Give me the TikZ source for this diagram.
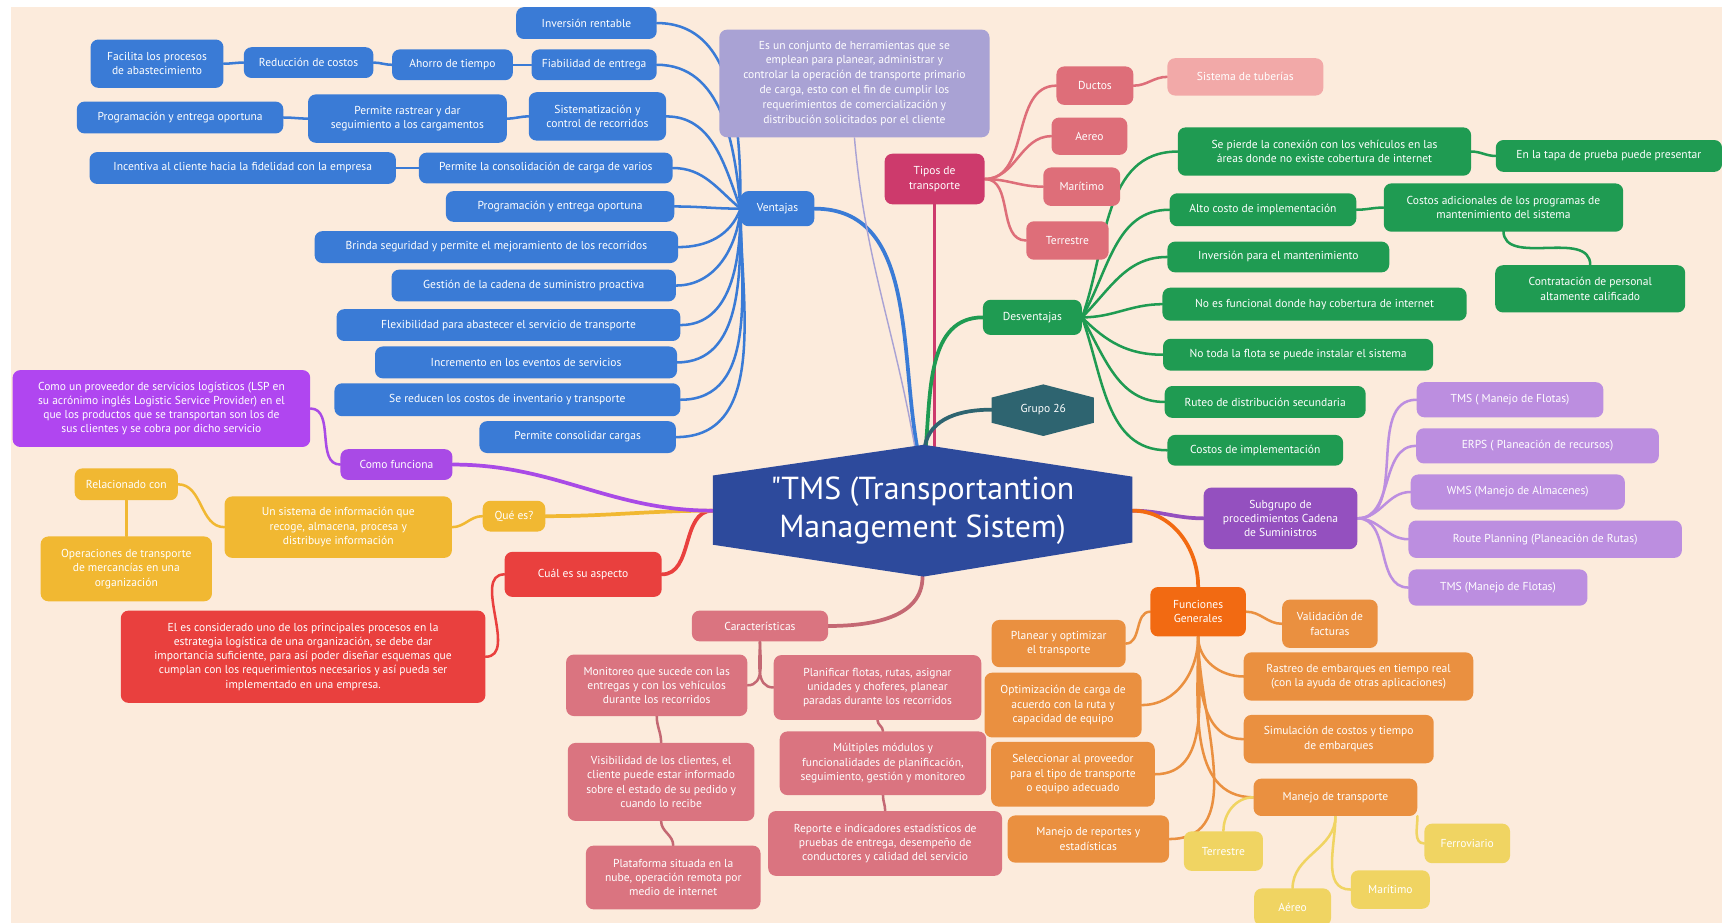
\documentclass[tikz,border=0pt]{standalone}
\usepackage{fontspec}
\setmainfont{PT Sans}
\usetikzlibrary{calc}
\pgfdeclarelayer{back}
\pgfdeclarelayer{edges}
\pgfsetlayers{back,edges,main}

\definecolor{paper}{HTML}{FCEBDC}
\definecolor{cBlue}{HTML}{3A7BD6}
\definecolor{cNavy}{HTML}{2D4A9C}
\definecolor{cLav}{HTML}{A9A2D4}
\definecolor{cTipo}{HTML}{CD3A6C}
\definecolor{cRose}{HTML}{DE6E79}
\definecolor{cPinkL}{HTML}{F2A9A8}
\definecolor{cGreen}{HTML}{1F9B52}
\definecolor{cTeal}{HTML}{2E6470}
\definecolor{cPurp}{HTML}{9450BF}
\definecolor{cLilac}{HTML}{BC8EE0}
\definecolor{cOrgD}{HTML}{F26A12}
\definecolor{cOrg}{HTML}{EA9040}
\definecolor{cYel}{HTML}{F0D462}
\definecolor{cCar}{HTML}{DA7480}
\definecolor{cRed}{HTML}{E9403E}
\definecolor{cGold}{HTML}{F1B832}
\definecolor{cVio}{HTML}{A94AE6}
\definecolor{cVioB}{HTML}{B046F0}

\newcommand\nf{\fontsize{10.5}{13}\selectfont}

\begin{document}
\begin{tikzpicture}[x=1pt,y=-1pt,
  box/.style={rounded corners=7pt, text=white, align=center, inner sep=0pt, font=\nf},
  sz/.style 2 args={minimum width=#1pt, minimum height=#2pt},
  bl/.style={box, fill=cBlue},
  lav/.style={box, fill=cLav},
  tipo/.style={box, fill=cTipo},
  rose/.style={box, fill=cRose},
  pinkl/.style={box, fill=cPinkL},
  gr/.style={box, fill=cGreen},
  pu/.style={box, fill=cPurp},
  li/.style={box, fill=cLilac},
  ord/.style={box, fill=cOrgD},
  org/.style={box, fill=cOrg},
  ye/.style={box, fill=cYel},
  car/.style={box, fill=cCar},
  rd/.style={box, fill=cRed},
  gd/.style={box, fill=cGold},
  vi/.style={box, fill=cVio},
  vib/.style={box, fill=cVioB},
  ln/.style={line width=2.3pt, line cap=round},
  main/.style={line width=3.4pt, line cap=round},
]
\useasboundingbox (0,0) rectangle (1568,840);
\begin{pgfonlayer}{back}
  \fill[white] (0,0) rectangle (1568,840);
  \fill[paper] (10,6) rectangle (1568,840);
\end{pgfonlayer}

% central topic
\fill[cNavy] (649,433)--(841,405)--(1031,434)--(1031,494)--(841,525)--(649,496)--cycle;
\node[text=white, align=center, inner sep=0pt, sz={382}{120},
      font=\fontsize{29}{34}\selectfont] (root) at (840,465)
      {\textquotedbl TMS (Transportantion\\Management Sistem)};

% group tag
\fill[cTeal] (903,362)--(950,350)--(996,362)--(996,385)--(950,397)--(903,385)--cycle;
\node[text=white, inner sep=0pt, sz={93}{47}, font=\nf] (grp) at (950,373) {Grupo 26};

% Ventajas branch
\node[bl, sz={67}{32}] (vent) at (708,190) {Ventajas};
\node[bl, sz={128}{29}] (inv) at (534,21) {Inversión rentable};
\node[bl, sz={114}{28}] (fia) at (541,59) {Fiabilidad de entrega};
\node[bl, sz={110}{28}] (aho) at (412,59) {Ahorro de tiempo};
\node[bl, sz={118}{28}] (rdc) at (281,57) {Reducción de costos};
\node[bl, sz={121}{44}] (fac) at (143,58) {Facilita los procesos\\de abastecimiento};
\node[bl, sz={125}{44}] (sis) at (544,106) {Sistematización y\\control de recorridos};
\node[bl, sz={181}{44}] (ras) at (371,108) {Permite rastrear y dar\\seguimiento a los cargamentos};
\node[bl, sz={188}{29}] (prgA) at (164,107) {Programación y entrega oportuna};
\node[bl, sz={231}{28}] (pcc) at (497,153) {Permite la consolidación de carga de varios};
\node[bl, sz={279}{29}] (icv) at (221,153) {Incentiva al cliente hacia la fidelidad con la empresa};
\node[bl, sz={208}{28}] (prgB) at (510,188) {Programación y entrega oportuna};
\node[bl, sz={331}{29}] (bri) at (452,225) {Brinda seguridad y permite el mejoramiento de los recorridos};
\node[bl, sz={259}{29}] (ges) at (486,260) {Gestión de la cadena de suministro proactiva};
\node[bl, sz={313}{29}] (fle) at (463,296) {Flexibilidad para abastecer el servicio de transporte};
\node[bl, sz={275}{29}] (inc) at (479,330) {Incremento en los eventos de servicios};
\node[bl, sz={315}{30}] (rci) at (462,364) {Se reducen los costos de inventario y transporte};
\node[bl, sz={179}{29}] (pcs) at (526,398) {Permite consolidar cargas};

% definition
\node[lav, sz={246}{98}, font=\fontsize{10.5}{13.6}\selectfont] (desc) at (778,76)
 {Es un conjunto de herramientas que se\\emplean para planear, administrar y\\controlar la operación de transporte primario\\de carga, esto con el fin de cumplir los\\requerimientos de comercialización y\\distribución solicitados por el cliente};

% Tipos de transporte
\node[tipo, sz={91}{46}] (tip) at (851,163) {Tipos de\\transporte};
\node[rose, sz={70}{35}] (duc) at (997,78) {Ductos};
\node[rose, sz={69}{34}] (aer) at (992,124) {Aereo};
\node[rose, sz={70}{35}] (mar) at (985,170) {Marítimo};
\node[rose, sz={75}{35}] (ter) at (972,219) {Terrestre};
\node[pinkl, sz={142}{34}] (tub) at (1134,70) {Sistema de tuberías};

% Desventajas
\node[gr, sz={90}{32}] (des) at (940,289) {Desventajas};
\node[gr, sz={267}{44}] (spc) at (1206,138) {Se pierde la conexión con los vehículos en las\\áreas donde no existe cobertura de internet};
\node[gr, sz={206}{29}] (tap) at (1465,142) {En la tapa de prueba puede presentar};
\node[gr, sz={170}{30}] (alt) at (1150,191) {Alto costo de implementación};
\node[gr, sz={218}{44}] (cad) at (1369,189) {Costos adicionales de los programas de\\mantenimiento del sistema};
\node[gr, sz={173}{43}] (con) at (1448,263) {Contratación de personal\\altamente calificado};
\node[gr, sz={202}{28}] (ipm) at (1164,234) {Inversión para el mantenimiento};
\node[gr, sz={277}{30}] (nef) at (1197,277) {No es funcional donde hay cobertura de internet};
\node[gr, sz={246}{29}] (ntf) at (1182,323) {No toda la flota se puede instalar el sistema};
\node[gr, sz={183}{29}] (rut) at (1152,366) {Ruteo de distribución secundaria};
\node[gr, sz={160}{28}] (cdi) at (1143,410) {Costos de implementación};

% Subgrupo
\node[pu, sz={140}{56}] (sub) at (1166,472) {Subgrupo de\\procedimientos Cadena\\de Suministros};
\node[li, sz={170}{32}] (tmsA) at (1375,364) {TMS ( Manejo de Flotas)};
\node[li, sz={221}{32}] (erp) at (1400,406) {ERPS ( Planeación de recursos)};
\node[li, sz={195}{32}] (wms) at (1382,448) {WMS (Manejo de Almacenes)};
\node[li, sz={249}{34}] (rpl) at (1407,491) {Route Planning (Planeación de Rutas)};
\node[li, sz={163}{33}] (tmsB) at (1364,535) {TMS (Manejo de Flotas)};

% Funciones Generales
\node[ord, sz={87}{45}] (fun) at (1091,557) {Funciones\\Generales};
\node[org, sz={87}{44}] (val) at (1211,568) {Validación de\\facturas};
\node[org, sz={122}{43}] (pla) at (964,586) {Planear y optimizar\\el transporte};
\node[org, sz={143}{59}] (opt) at (968,642) {Optimización de carga de\\acuerdo con la ruta y\\capacidad de equipo};
\node[org, sz={149}{59}] (sel) at (977,705) {Seleccionar al proveedor\\para el tipo de transporte\\o equipo adecuado};
\node[org, sz={147}{43}] (mre) at (991,764) {Manejo de reportes y\\estadísticas};
\node[org, sz={209}{44}] (rem) at (1237,616) {Rastreo de embarques en tiempo real\\(con la ayuda de otras aplicaciones)};
\node[org, sz={173}{44}] (sim) at (1219,673) {Simulación de costos y tiempo\\de embarques};
\node[org, sz={149}{34}] (mtr) at (1216,726) {Manejo de transporte};
\node[ye, sz={72}{36}] (yT) at (1114,775) {Terrestre};
\node[ye, sz={70}{34}] (yA) at (1177,826) {Aéreo};
\node[ye, sz={72}{35}] (yM) at (1266,810) {Marítimo};
\node[ye, sz={78}{36}] (yF) at (1336,768) {Ferroviario};

% Caracteristicas
\node[car, sz={124}{28}] (cart) at (692,570) {Características};
\node[car, sz={165}{56}] (mon) at (598,624) {Monitoreo que sucede con las\\entregas y con los vehículos\\durante los recorridos};
\node[car, sz={189}{59}] (plf) at (799,626) {Planificar flotas, rutas, asignar\\unidades y choferes, planear\\paradas durante los recorridos};
\node[car, sz={170}{71}] (vis) at (602,712) {Visibilidad de los clientes, el\\cliente puede estar informado\\sobre el estado de su pedido y\\cuando lo recibe};
\node[car, sz={188}{58}] (mul) at (804,695) {Múltiples módulos y\\funcionalidades de planificación,\\seguimiento, gestión y monitoreo};
\node[car, sz={159}{58}] (plt) at (613,799) {Plataforma situada en la\\nube, operación remota por\\medio de internet};
\node[car, sz={213}{59}] (rpt) at (806,768) {Reporte e indicadores estadísticos de\\pruebas de entrega, desempeño de\\conductores y calidad del servicio};

% Cual es su aspecto
\node[rd, sz={143}{41}] (cua) at (531,523) {Cuál es su aspecto};
\node[rd, sz={332}{84}] (crd) at (276,598) {El es considerado uno de los principales procesos en la\\estrategia logística de una organización, se debe dar\\importancia suficiente, para así poder diseñar esquemas que\\cumplan con los requerimientos necesarios y así pueda ser\\implementado en una empresa.};

% Que es
\node[gd, sz={57}{28}] (que) at (468,470) {Qué es?};
\node[gd, sz={207}{56}] (uns) at (308,480) {Un sistema de información que\\recoge, almacena, procesa y\\distribuye información};
\node[gd, sz={94}{29}] (rel) at (115,441) {Relacionado con};
\node[gd, sz={156}{59}] (ope) at (115,518) {Operaciones de transporte\\de mercancías en una\\organización};

% Como funciona
\node[vi, sz={102}{28}] (com) at (361,423) {Como funciona};
\node[vib, sz={271}{70}] (cmv) at (147,372) {Como un proveedor de servicios logísticos (LSP en\\su acrónimo inglés Logistic Service Provider) en el\\que los productos que se transportan son los de\\sus clientes y se cobra por dicho servicio};

% ---------------- connectors ----------------
\begin{pgfonlayer}{edges}
  % branches leaving the central topic
  \draw[main, cBlue] (vent.east) to[out=0,in=100] ($(root.north)+(-5,2)$);
  \draw[line width=1.3pt, cLav] (desc.south) to[out=-85,in=100] ($(root.north)+(-7,2)$);
  \draw[main, cTipo] (tip.south) -- (851,410);
  \draw[main, cGreen] (des.west) to[out=180,in=85] ($(root.north)+(3,2)$);
  \draw[main, cTeal] ($(root.north)+(2,2)$) to[out=80,in=180] (grp.west);
  \draw[main, cPurp] (root.east) to[out=0,in=180] (sub.west);
  \draw[main, cOrgD] (root.east) to[out=0,in=90] (fun.north);
  \draw[main, cCar!90!black] (root.south) to[out=270,in=0] (cart.east);
  \draw[main, cRed] (root.west) to[out=180,in=0] (cua.east);
  \draw[main, cGold] (root.west) to[out=180,in=0] (que.east);
  \draw[main, cVio] (root.west) to[out=180,in=0] (com.east);

  % Ventajas
  \begin{scope}[ln, cBlue]
    \draw (vent.west) to[out=90,in=0] (inv.east);
    \draw (vent.west) to[out=95,in=0] (fia.east);
    \draw (vent.west) to[out=110,in=0] (sis.east);
    \draw (vent.west) to[out=140,in=0] (pcc.east);
    \draw (vent.west) to[out=180,in=0] (prgB.east);
    \draw (vent.west) to[out=250,in=0] (bri.east);
    \draw (vent.west) to[out=265,in=0] (ges.east);
    \draw (vent.west) to[out=270,in=0] (fle.east);
    \draw (vent.west) to[out=270,in=0] (inc.east);
    \draw (vent.west) to[out=270,in=0] (rci.east);
    \draw (vent.west) to[out=270,in=0] (pcs.east);
    \draw (fia.west) to[out=180,in=0] (aho.east);
    \draw (aho.west) to[out=180,in=0] (rdc.east);
    \draw (rdc.west) to[out=180,in=0] (fac.east);
    \draw (sis.west) to[out=180,in=0] (ras.east);
    \draw (ras.west) to[out=180,in=0] (prgA.east);
    \draw (pcc.west) to[out=180,in=0] (icv.east);
  \end{scope}

  % Tipos de transporte
  \begin{scope}[ln, cRose]
    \draw (tip.east) to[out=0,in=180] (duc.west);
    \draw (tip.east) to[out=0,in=180] (aer.west);
    \draw (tip.east) to[out=0,in=180] (mar.west);
    \draw (tip.east) to[out=0,in=180] (ter.west);
    \draw (duc.east) to[out=0,in=180] (tub.west);
  \end{scope}

  % Desventajas
  \begin{scope}[ln, cGreen]
    \draw (des.east) to[out=70,in=180] (spc.west);
    \draw (des.east) to[out=60,in=180] (alt.west);
    \draw (des.east) to[out=45,in=180] (ipm.west);
    \draw (des.east) to[out=0,in=180] (nef.west);
    \draw (des.east) to[out=-45,in=180] (ntf.west);
    \draw (des.east) to[out=-60,in=180] (rut.west);
    \draw (des.east) to[out=-70,in=180] (cdi.west);
    \draw (spc.east) to[out=0,in=180] (tap.west);
    \draw (alt.east) to[out=0,in=180] (cad.west);
    \draw ($(cad.south)+(0,-1)$) to[out=270,in=90] (con.north);
  \end{scope}

  % Subgrupo
  \begin{scope}[ln, cLilac]
    \draw (sub.east) to[out=0,in=180] (tmsA.west);
    \draw (sub.east) to[out=0,in=180] (erp.west);
    \draw (sub.east) to[out=0,in=180] (wms.west);
    \draw (sub.east) to[out=0,in=180] (rpl.west);
    \draw (sub.east) to[out=0,in=180] (tmsB.west);
  \end{scope}

  % Funciones Generales
  \begin{scope}[ln, cOrg]
    \draw (fun.east) to[out=0,in=180] (val.west);
    \draw (fun.west) to[out=180,in=0] (pla.east);
    \draw (fun.south) to[out=270,in=0] (opt.east);
    \draw (fun.south) to[out=270,in=0] (sel.east);
    \draw (fun.south) to[out=270,in=0] (mre.east);
    \draw (fun.south) to[out=270,in=180] (rem.west);
    \draw (fun.south) to[out=270,in=180] (sim.west);
    \draw (fun.south) to[out=270,in=180] (mtr.west);
  \end{scope}
  \begin{scope}[ln, cYel]
    \draw (mtr.west) to[out=180,in=90] (yT.north);
    \draw (mtr.south) to[out=270,in=90] (yA.north);
    \draw (mtr.south) to[out=270,in=180] (yM.west);
    \draw (mtr.south east) to[out=270,in=180] (yF.west);
  \end{scope}

  % Caracteristicas
  \begin{scope}[ln, cCar!90!black]
    \draw (cart.south) to[out=270,in=0] (mon.east);
    \draw (cart.south) to[out=270,in=180] (plf.west);
    \draw (mon.south) to[out=270,in=90] (vis.north);
    \draw (vis.south) to[out=270,in=90] (plt.north);
    \draw (plf.south) to[out=270,in=90] (mul.north);
    \draw (mul.south) to[out=270,in=90] (rpt.north);
  \end{scope}

  % left side
  \draw[ln, cRed] (cua.west) to[out=180,in=0] (crd.east);
  \draw[ln, cGold] (que.west) to[out=180,in=0] (uns.east);
  \draw[ln, cGold] (uns.west) to[out=180,in=0] (rel.east);
  \draw[ln, cGold] (rel.south) -- (ope.north);
  \draw[ln, cVio] (com.west) to[out=180,in=0] (cmv.east);
\end{pgfonlayer}
\end{tikzpicture}
\end{document}
